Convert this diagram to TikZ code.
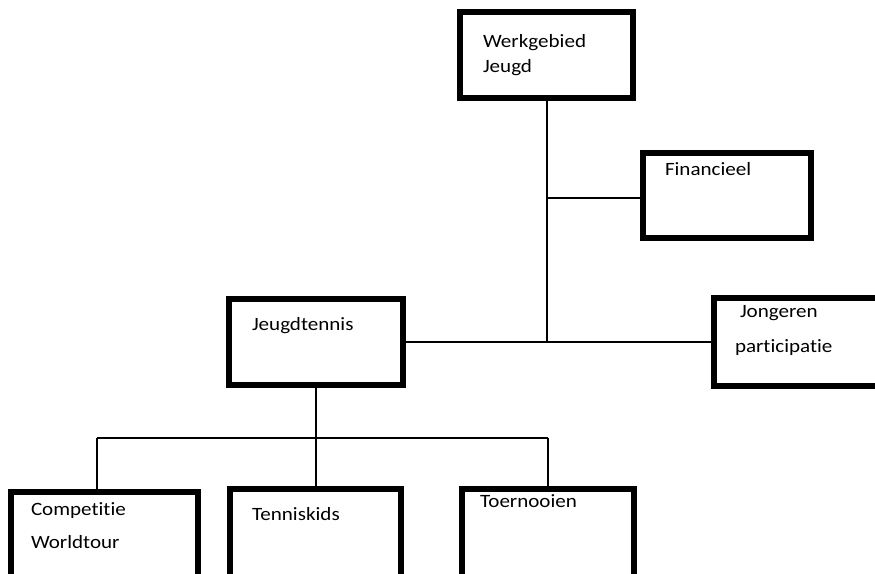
\documentclass[tikz,border=0pt]{standalone}
\usepackage{fontspec}
\setmainfont{Carlito}[FakeStretch=1.12,Ligatures={NoCommon,NoRare,NoContextual}]
\begin{document}
\begin{tikzpicture}[x=1pt,y=-1pt,
  box/.style={draw=black,line width=5.5pt,rectangle,inner sep=0pt,outer sep=0pt,anchor=north west},
  lbl/.style={anchor=base west,inner sep=0pt,outer sep=0pt,font=\fontsize{18.8}{22}\selectfont},
  conn/.style={draw=black,line width=2pt}]
\useasboundingbox (0,0) rectangle (875,573);
\clip (0,0) rectangle (875,573);
% boxes
\node[box,minimum width=173pt,minimum height=86pt] (werk) at (460,12) {};
\node[box,minimum width=168pt,minimum height=85pt] (fin) at (643,153) {};
\node[box,minimum width=174pt,minimum height=86pt] (jt) at (229,299) {};
\node[box,minimum width=180pt,minimum height=88pt] (jong) at (714,298) {};
\node[box,minimum width=187pt,minimum height=120pt] (comp) at (11,492) {};
\node[box,minimum width=171pt,minimum height=120pt] (tk) at (230,489) {};
\node[box,minimum width=172pt,minimum height=120pt] (toer) at (462,489) {};
% texts
\node[lbl] (t1a) at (483,47) {Werkgebied};
\node[lbl] (t1b) at (483,72) {Jeugd};
\node[lbl] (t2) at (665,175) {Financieel};
\node[lbl] (t3) at (252,330) {Jeugdtennis};
\node[lbl] (t4a) at (740,317) {Jongeren};
\node[lbl] (t4b) at (735,352) {participatie};
\node[lbl] (t5a) at (31,515) {Competitie};
\node[lbl] (t5b) at (31,548) {Worldtour};
\node[lbl] (t6) at (252,520) {Tenniskids};
\node[lbl] (t7) at (480,507) {Toernooien};
% connectors
\coordinate (tr) at (547,342);
\coordinate (tf) at (547,198);
\coordinate (bh) at (316,438);
\coordinate (bl) at (97,438);
\coordinate (br) at (548,438);
\draw[conn] (547,0 |- werk.south) -- (tr);
\draw[conn] (tf) -- (fin.west |- tf);
\draw[conn] (jt.east) -- (jong.west);
\draw[conn] (jt.south -| bh) -- (bh);
\draw[conn] (bl) -- (br);
\draw[conn] (bl) -- (bl |- comp.north);
\draw[conn] (bh) -- (bh |- tk.north);
\draw[conn] (br) -- (br |- toer.north);
\end{tikzpicture}
\end{document}
